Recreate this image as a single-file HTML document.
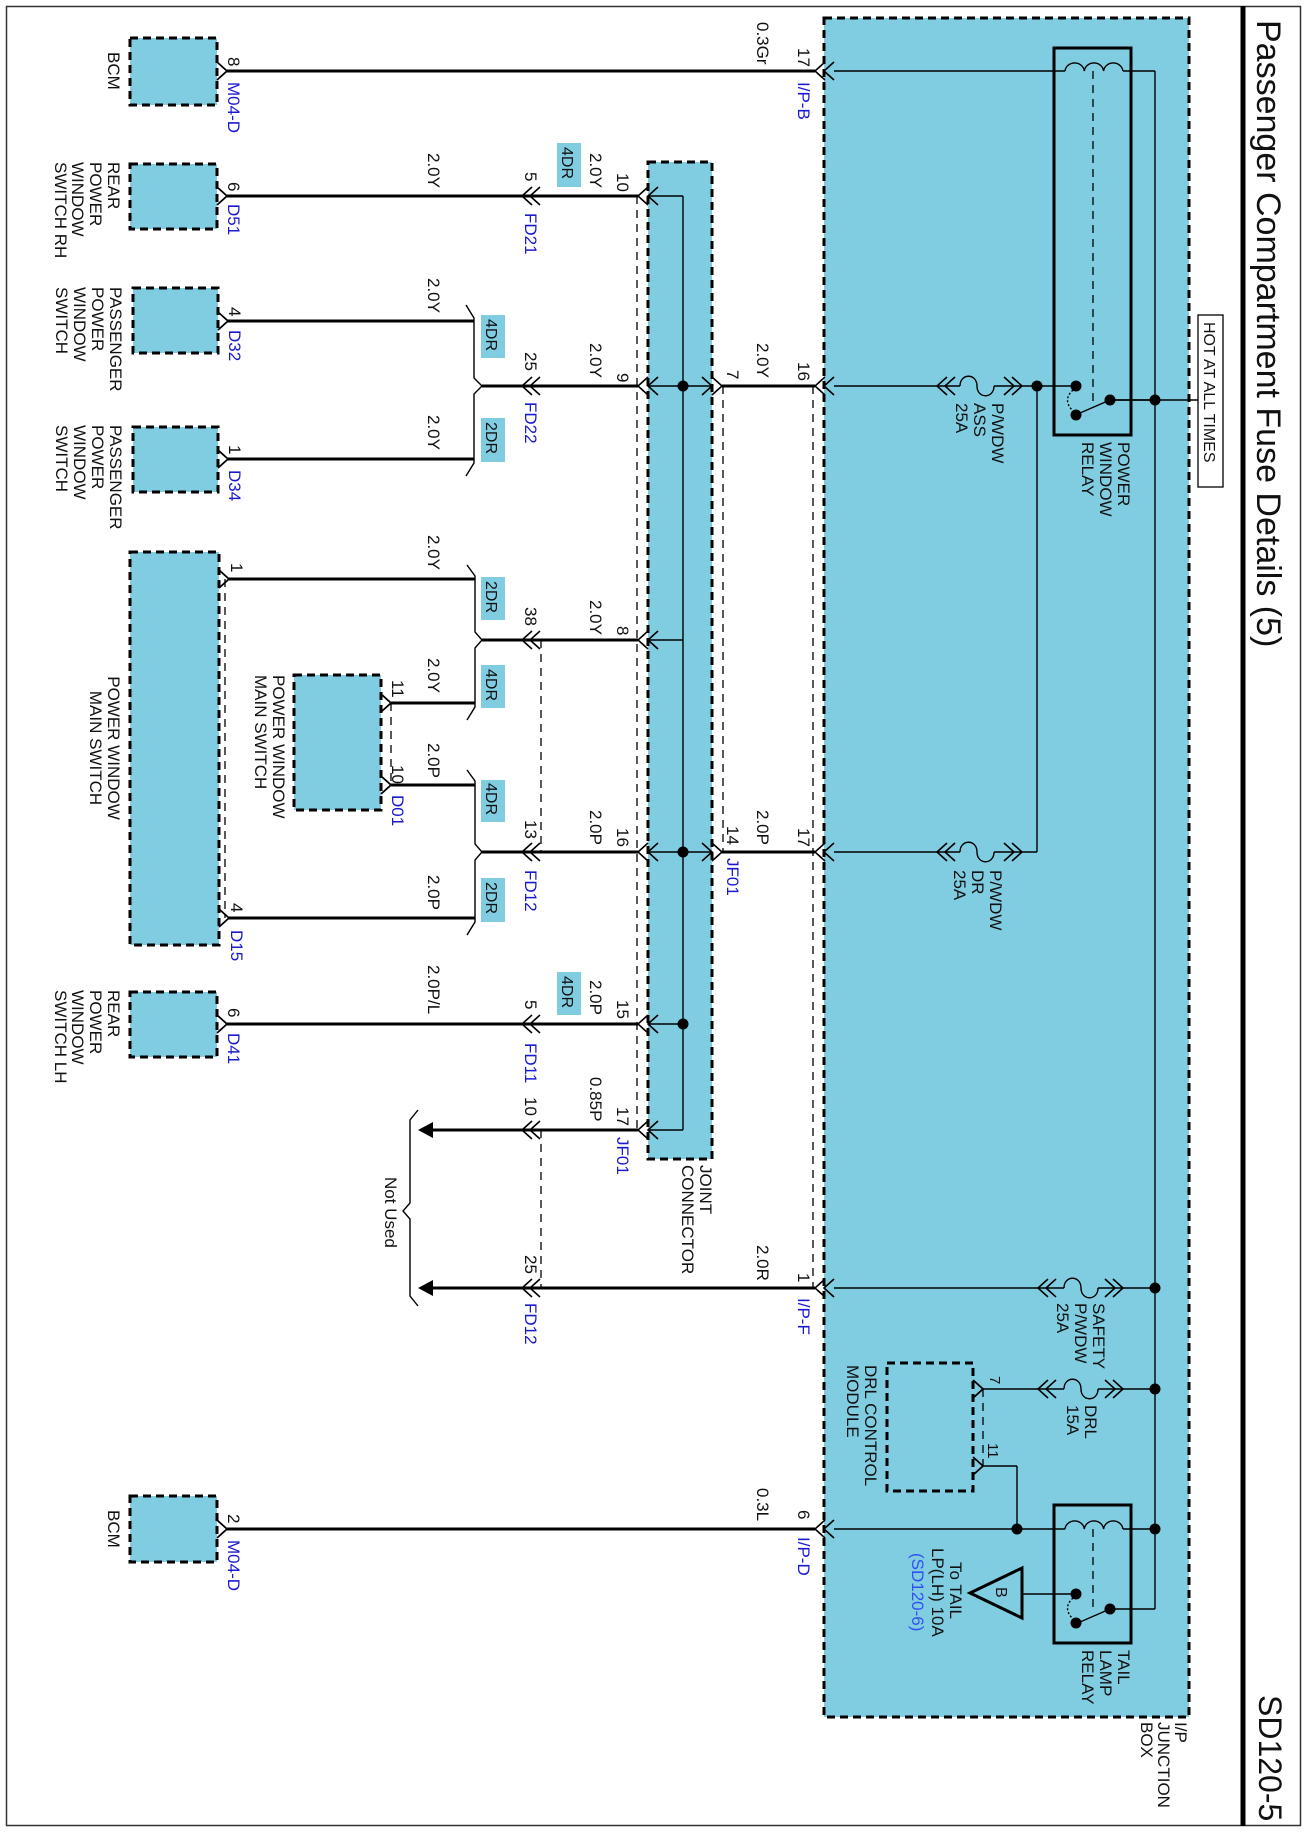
<!DOCTYPE html>
<html><head><meta charset="utf-8"><style>
html,body{margin:0;padding:0;background:#fff;}
svg{display:block;}
text{font-family:"Liberation Sans",Arial,sans-serif;font-size:17px;fill:#111;}
.b{fill:#1a1acd;}
.th{stroke:#000;stroke-width:3;fill:none;}
.tn{stroke:#000;stroke-width:1.4;fill:none;}
.ds{stroke:#000;stroke-width:1.3;fill:none;stroke-dasharray:8,6;}
.bx{fill:#80cde1;stroke:#000;stroke-width:3;stroke-dasharray:8,5;}
.tag{fill:#80cde1;}
</style></head><body>
<svg width="1308" height="1833" viewBox="0 0 1308 1833" xmlns="http://www.w3.org/2000/svg">
<defs>
<path id="cl" d="M10,-9 L0,0 L10,9" stroke="#000" stroke-width="1.6" fill="none"/>
<path id="cr" d="M-10,-9 L0,0 L-10,9" stroke="#000" stroke-width="1.6" fill="none"/>
<path id="cb" d="M0,-9 L10,0 L0,9" stroke="#000" stroke-width="1.8" fill="none"/>
<circle id="dt" r="5.5" fill="#000"/>
<path id="fs" d="M0,0 C0,-13 17,-13 17,0 C17,13 34,13 34,0" stroke="#000" stroke-width="1.4" fill="none"/>
<path id="coil" d="M0,0 a9.7,9 0 0 1 19.3,0 a9.7,9 0 0 1 19.3,0 a9.7,9 0 0 1 19.3,0" stroke="#000" stroke-width="1.4" fill="none"/>
</defs>

<!-- frame -->
<rect x="6.5" y="6.5" width="1294" height="1819" fill="none" stroke="#333" stroke-width="1.5"/>
<line x1="1243" y1="6" x2="1243" y2="1826" stroke="#000" stroke-width="5"/>
<text transform="translate(1257,20) rotate(90)" style="font-size:34px">Passenger Compartment Fuse Details (5)</text>
<text transform="translate(1259,1695) rotate(90)" style="font-size:32px">SD120-5</text>

<!-- junction box -->
<rect class="bx" x="824" y="18" width="365" height="1699"/>
<rect x="1198" y="315" width="25" height="172" fill="#fff" stroke="#000" stroke-width="1.3"/>
<text transform="translate(1204,322) rotate(90)" style="font-size:16px">HOT AT ALL TIMES</text>
<line class="tn" x1="1110" y1="400" x2="1198" y2="400"/>

<!-- joint connector -->
<rect class="bx" x="648" y="162" width="64" height="997"/>

<!-- component boxes -->
<rect class="bx" x="130" y="38" width="87" height="67"/>
<rect class="bx" x="130" y="164" width="87" height="65"/>
<rect class="bx" x="133" y="288" width="85" height="65"/>
<rect class="bx" x="133" y="427" width="85" height="65"/>
<rect class="bx" x="130" y="552" width="89" height="393"/>
<rect class="bx" x="294" y="675" width="87" height="135"/>
<rect class="bx" x="130" y="992" width="87" height="65"/>
<rect class="bx" x="130" y="1496" width="87" height="66"/>
<rect x="887" y="1363" width="86" height="128" fill="none" stroke="#000" stroke-width="3" stroke-dasharray="8,5"/>

<!-- relay boxes -->
<rect x="1054" y="48" width="77" height="387" fill="none" stroke="#000" stroke-width="3"/>
<rect x="1054" y="1505" width="77" height="138" fill="none" stroke="#000" stroke-width="3"/>

<!-- thick external wires -->
<g class="th">
<line x1="227" y1="71" x2="815" y2="71"/>
<line x1="227" y1="196" x2="638" y2="196"/>
<line x1="227" y1="321" x2="474" y2="321"/>
<line x1="227" y1="459" x2="474" y2="459"/>
<line x1="482" y1="386" x2="638" y2="386"/>
<line x1="229" y1="579" x2="475" y2="579"/>
<line x1="391" y1="703" x2="475" y2="703"/>
<line x1="482" y1="640" x2="638" y2="640"/>
<line x1="391" y1="785" x2="475" y2="785"/>
<line x1="229" y1="918" x2="475" y2="918"/>
<line x1="482" y1="852" x2="638" y2="852"/>
<line x1="227" y1="1024" x2="638" y2="1024"/>
<line x1="433" y1="1130" x2="638" y2="1130"/>
<line x1="433" y1="1288" x2="815" y2="1288"/>
<line x1="227" y1="1529" x2="815" y2="1529"/>
<line x1="722" y1="386" x2="815" y2="386"/>
<line x1="722" y1="852" x2="815" y2="852"/>
</g>

<!-- splices -->
<g class="tn" stroke-width="1.8">
<path d="M466,305 L474,318 L474,378 L482,386 L474,394 L474,463 L466,476"/>
<path d="M467,565 L475,576 L475,632 L482,640 L475,648 L475,707 L467,720"/>
<path d="M467,770 L475,781 L475,844 L482,852 L475,860 L475,922 L467,935"/>
<path d="M418,1110 L410,1120 L410,1203 L403,1211 L410,1219 L410,1296 L418,1306"/>
</g>
<polygon points="418,1130 433,1122 433,1138" fill="#000"/>
<polygon points="418,1288 433,1280 433,1296" fill="#000"/>
<text transform="translate(385,1177) rotate(90)">Not Used</text>

<!-- JC internal wires -->
<g class="tn">
<line x1="648" y1="196" x2="683" y2="196"/>
<line x1="683" y1="196" x2="683" y2="1130"/>
<line x1="648" y1="386" x2="712" y2="386"/>
<line x1="648" y1="640" x2="683" y2="640"/>
<line x1="648" y1="852" x2="712" y2="852"/>
<line x1="648" y1="1024" x2="683" y2="1024"/>
<line x1="648" y1="1130" x2="683" y2="1130"/>
</g>
<use href="#dt" x="683" y="386"/><use href="#dt" x="683" y="852"/><use href="#dt" x="683" y="1024"/>

<!-- dashed -->
<g class="ds">
<line x1="637" y1="196" x2="637" y2="1130"/>
<line x1="723" y1="386" x2="723" y2="852"/>
<line x1="813" y1="386" x2="813" y2="1288"/>
<line x1="541" y1="640" x2="541" y2="852"/>
<line x1="541" y1="1130" x2="541" y2="1288"/>
<line x1="225" y1="579" x2="225" y2="918"/>
<line x1="391" y1="703" x2="391" y2="785"/>
<line x1="983" y1="1389" x2="983" y2="1466"/>
<line x1="1093" y1="71" x2="1093" y2="405"/>
<line x1="1093" y1="1529" x2="1093" y2="1609"/>
</g>

<!-- junction internals -->
<g class="tn">
<line x1="834" y1="71" x2="1065" y2="71"/>
<line x1="1123" y1="71" x2="1155" y2="71"/>
<line x1="1155" y1="71" x2="1155" y2="1609"/>
<line x1="1155" y1="1609" x2="1110" y2="1609"/>
<line x1="1110" y1="400" x2="1155" y2="400"/>
<line x1="1110" y1="400" x2="1080" y2="413"/>
<line x1="1110" y1="1609" x2="1080" y2="1622"/>
<line x1="1076" y1="386" x2="1037" y2="386"/>
<line x1="1037" y1="386" x2="1037" y2="852"/>
<line x1="834" y1="386" x2="960" y2="386"/>
<line x1="994" y1="386" x2="1037" y2="386"/>
<line x1="834" y1="852" x2="960" y2="852"/>
<line x1="994" y1="852" x2="1037" y2="852"/>
<line x1="834" y1="1288" x2="1064" y2="1288"/>
<line x1="1098" y1="1288" x2="1155" y2="1288"/>
<line x1="983" y1="1389" x2="1064" y2="1389"/>
<line x1="1098" y1="1389" x2="1155" y2="1389"/>
<line x1="983" y1="1466" x2="1017" y2="1466"/>
<line x1="1017" y1="1466" x2="1017" y2="1529"/>
<line x1="834" y1="1529" x2="1065" y2="1529"/>
<line x1="1123" y1="1529" x2="1155" y2="1529"/>
<line x1="1022" y1="1594" x2="1076" y2="1594"/>
</g>
<path d="M1073,390 Q1062,400 1073,411" stroke="#000" stroke-width="1.4" fill="none" stroke-dasharray="2,2"/>
<path d="M1073,1598 Q1062,1608 1073,1619" stroke="#000" stroke-width="1.4" fill="none" stroke-dasharray="2,2"/>
<use href="#coil" x="1065" y="71"/><use href="#coil" x="1065" y="1529"/>
<use href="#fs" x="960" y="386"/><use href="#fs" x="960" y="852"/>
<use href="#fs" x="1064" y="1288"/><use href="#fs" x="1064" y="1389"/>
<g>
<use href="#cl" x="937" y="386"/><use href="#cl" x="945" y="386"/><use href="#cr" x="1014" y="386"/><use href="#cr" x="1022" y="386"/>
<use href="#cl" x="937" y="852"/><use href="#cl" x="945" y="852"/><use href="#cr" x="1014" y="852"/><use href="#cr" x="1022" y="852"/>
<use href="#cl" x="1038" y="1288"/><use href="#cl" x="1046" y="1288"/><use href="#cr" x="1115" y="1288"/><use href="#cr" x="1123" y="1288"/>
<use href="#cl" x="1038" y="1389"/><use href="#cl" x="1046" y="1389"/><use href="#cr" x="1115" y="1389"/><use href="#cr" x="1123" y="1389"/>
</g>
<use href="#dt" x="1076" y="386"/><use href="#dt" x="1076" y="415"/><use href="#dt" x="1110" y="400"/>
<use href="#dt" x="1155" y="400"/><use href="#dt" x="1037" y="386"/>
<use href="#dt" x="1155" y="1288"/><use href="#dt" x="1155" y="1389"/><use href="#dt" x="1155" y="1529"/><use href="#dt" x="1017" y="1529"/>
<use href="#dt" x="1076" y="1594"/><use href="#dt" x="1076" y="1623"/><use href="#dt" x="1110" y="1609"/>
<polygon points="970,1593 1022,1568 1022,1618" fill="none" stroke="#000" stroke-width="3"/>
<text transform="translate(996,1587) rotate(90)" style="font-size:16px">B</text>

<!-- connectors at junction box edge -->
<g>
<use href="#cl" x="815" y="71"/><use href="#cl" x="824" y="71"/>
<use href="#cl" x="815" y="386"/><use href="#cl" x="824" y="386"/>
<use href="#cl" x="815" y="852"/><use href="#cl" x="824" y="852"/>
<use href="#cl" x="815" y="1288"/><use href="#cl" x="824" y="1288"/>
<use href="#cl" x="815" y="1529"/><use href="#cl" x="824" y="1529"/>
<!-- JC right -->
<use href="#cr" x="712" y="386"/><use href="#cr" x="722" y="386"/>
<use href="#cr" x="712" y="852"/><use href="#cr" x="722" y="852"/>
<!-- JC left -->
<use href="#cl" x="638" y="196"/><use href="#cl" x="648" y="196"/>
<use href="#cl" x="638" y="386"/><use href="#cl" x="648" y="386"/>
<use href="#cl" x="638" y="640"/><use href="#cl" x="648" y="640"/>
<use href="#cl" x="638" y="852"/><use href="#cl" x="648" y="852"/>
<use href="#cl" x="638" y="1024"/><use href="#cl" x="648" y="1024"/>
<use href="#cl" x="638" y="1130"/><use href="#cl" x="648" y="1130"/>
<!-- FD -->
<use href="#cl" x="522" y="196"/><use href="#cl" x="530" y="196"/>
<use href="#cl" x="522" y="386"/><use href="#cl" x="530" y="386"/>
<use href="#cl" x="522" y="640"/><use href="#cl" x="530" y="640"/>
<use href="#cl" x="522" y="852"/><use href="#cl" x="530" y="852"/>
<use href="#cl" x="522" y="1024"/><use href="#cl" x="530" y="1024"/>
<use href="#cl" x="522" y="1130"/><use href="#cl" x="530" y="1130"/>
<use href="#cl" x="522" y="1288"/><use href="#cl" x="530" y="1288"/>
<!-- component pins -->
<use href="#cb" x="217" y="71"/><use href="#cb" x="217" y="196"/><use href="#cb" x="218" y="321"/><use href="#cb" x="218" y="459"/>
<use href="#cb" x="219" y="579"/><use href="#cb" x="219" y="918"/><use href="#cb" x="381" y="703"/><use href="#cb" x="381" y="785"/>
<use href="#cb" x="217" y="1024"/><use href="#cb" x="217" y="1529"/>
<use href="#cb" x="973" y="1389"/><use href="#cb" x="973" y="1466"/>
</g>

<!-- tags -->
<rect class="tag" x="557" y="143" width="24" height="44"/><text transform="translate(562,147) rotate(90)" style="font-size:16px">4DR</text>
<rect class="tag" x="557" y="972" width="24" height="43"/><text transform="translate(562,976) rotate(90)" style="font-size:16px">4DR</text>
<rect class="tag" x="481" y="315" width="24" height="43"/><text transform="translate(486,319) rotate(90)" style="font-size:16px">4DR</text>
<rect class="tag" x="481" y="418" width="24" height="44"/><text transform="translate(486,422) rotate(90)" style="font-size:16px">2DR</text>
<rect class="tag" x="481" y="577" width="24" height="43"/><text transform="translate(486,581) rotate(90)" style="font-size:16px">2DR</text>
<rect class="tag" x="481" y="665" width="24" height="43"/><text transform="translate(486,669) rotate(90)" style="font-size:16px">4DR</text>
<rect class="tag" x="481" y="780" width="24" height="42"/><text transform="translate(486,783) rotate(90)" style="font-size:16px">4DR</text>
<rect class="tag" x="481" y="878" width="24" height="44"/><text transform="translate(486,882) rotate(90)" style="font-size:16px">2DR</text>

<!-- labels -->
<g>
<text transform="translate(1118,442) rotate(90)">POWER</text>
<text transform="translate(1100,442) rotate(90)">WINDOW</text>
<text transform="translate(1082,442) rotate(90)">RELAY</text>
<text transform="translate(992,403) rotate(90)">P/WDW</text>
<text transform="translate(974,403) rotate(90)">ASS</text>
<text transform="translate(956,403) rotate(90)">25A</text>
<text transform="translate(990,870) rotate(90)">P/WDW</text>
<text transform="translate(972,870) rotate(90)">DR</text>
<text transform="translate(954,870) rotate(90)">25A</text>
<text transform="translate(1093,1303) rotate(90)">SAFETY</text>
<text transform="translate(1075,1303) rotate(90)">P/WDW</text>
<text transform="translate(1057,1303) rotate(90)">25A</text>
<text transform="translate(1085,1405) rotate(90)">DRL</text>
<text transform="translate(1067,1405) rotate(90)">15A</text>
<text transform="translate(865,1365) rotate(90)">DRL CONTROL</text>
<text transform="translate(847,1365) rotate(90)">MODULE</text>
<text transform="translate(990,1376) rotate(90)" style="font-size:15px">7</text>
<text transform="translate(988,1443) rotate(90)" style="font-size:15px">11</text>
<text transform="translate(1118,1650) rotate(90)">TAIL</text>
<text transform="translate(1100,1650) rotate(90)">LAMP</text>
<text transform="translate(1082,1650) rotate(90)">RELAY</text>
<text transform="translate(950,1562) rotate(90)">To TAIL</text>
<text transform="translate(932,1548) rotate(90)">LP(LH) 10A</text>
<text transform="translate(912,1553) rotate(90)" style="fill:#3050f0">(SD120-6)</text>
<text transform="translate(1175,1722) rotate(90)">I/P</text>
<text transform="translate(1158,1722) rotate(90)">JUNCTION</text>
<text transform="translate(1141,1722) rotate(90)">BOX</text>
<text transform="translate(700,1165) rotate(90)">JOINT</text>
<text transform="translate(682,1165) rotate(90)">CONNECTOR</text>

<text transform="translate(798,48) rotate(90)">17</text>
<text class="b" transform="translate(798,82) rotate(90)">I/P-B</text>
<text transform="translate(798,362) rotate(90)">16</text>
<text transform="translate(798,828) rotate(90)">17</text>
<text transform="translate(798,1273) rotate(90)">1</text>
<text class="b" transform="translate(798,1298) rotate(90)">I/P-F</text>
<text transform="translate(798,1510) rotate(90)">6</text>
<text class="b" transform="translate(798,1537) rotate(90)">I/P-D</text>

<text transform="translate(757,22) rotate(90)">0.3Gr</text>
<text transform="translate(757,343) rotate(90)">2.0Y</text>
<text transform="translate(757,810) rotate(90)">2.0P</text>
<text transform="translate(757,1245) rotate(90)">2.0R</text>
<text transform="translate(757,1488) rotate(90)">0.3L</text>

<text transform="translate(727,370) rotate(90)">7</text>
<text transform="translate(727,826) rotate(90)">14</text>
<text class="b" transform="translate(727,858) rotate(90)">JF01</text>

<text transform="translate(617,173) rotate(90)">10</text>
<text transform="translate(617,373) rotate(90)">9</text>
<text transform="translate(617,626) rotate(90)">8</text>
<text transform="translate(617,828) rotate(90)">16</text>
<text transform="translate(617,1000) rotate(90)">15</text>
<text transform="translate(617,1107) rotate(90)">17</text>
<text class="b" transform="translate(617,1137) rotate(90)">JF01</text>

<text transform="translate(590,153) rotate(90)">2.0Y</text>
<text transform="translate(590,343) rotate(90)">2.0Y</text>
<text transform="translate(590,600) rotate(90)">2.0Y</text>
<text transform="translate(590,810) rotate(90)">2.0P</text>
<text transform="translate(590,980) rotate(90)">2.0P</text>
<text transform="translate(590,1077) rotate(90)">0.85P</text>

<text transform="translate(525,172) rotate(90)">5</text>
<text class="b" transform="translate(525,213) rotate(90)">FD21</text>
<text transform="translate(525,352) rotate(90)">25</text>
<text class="b" transform="translate(525,402) rotate(90)">FD22</text>
<text transform="translate(525,607) rotate(90)">38</text>
<text transform="translate(525,820) rotate(90)">13</text>
<text class="b" transform="translate(525,870) rotate(90)">FD12</text>
<text transform="translate(525,1000) rotate(90)">5</text>
<text class="b" transform="translate(525,1043) rotate(90)">FD11</text>
<text transform="translate(525,1097) rotate(90)">10</text>
<text transform="translate(525,1255) rotate(90)">25</text>
<text class="b" transform="translate(525,1303) rotate(90)">FD12</text>

<text transform="translate(428,153) rotate(90)">2.0Y</text>
<text transform="translate(428,278) rotate(90)">2.0Y</text>
<text transform="translate(428,415) rotate(90)">2.0Y</text>
<text transform="translate(428,535) rotate(90)">2.0Y</text>
<text transform="translate(428,658) rotate(90)">2.0Y</text>
<text transform="translate(428,743) rotate(90)">2.0P</text>
<text transform="translate(428,875) rotate(90)">2.0P</text>
<text transform="translate(428,965) rotate(90)">2.0P/L</text>

<text transform="translate(392,680) rotate(90)">11</text>
<text transform="translate(392,765) rotate(90)">10</text>
<text class="b" transform="translate(392,795) rotate(90)">D01</text>
<text transform="translate(273,675) rotate(90)">POWER WINDOW</text>
<text transform="translate(255,675) rotate(90)">MAIN SWITCH</text>

<text transform="translate(228,57) rotate(90)">8</text>
<text class="b" transform="translate(228,82) rotate(90)">M04-D</text>
<text transform="translate(228,182) rotate(90)">6</text>
<text class="b" transform="translate(228,204) rotate(90)">D51</text>
<text transform="translate(229,307) rotate(90)">4</text>
<text class="b" transform="translate(229,330) rotate(90)">D32</text>
<text transform="translate(229,445) rotate(90)">1</text>
<text class="b" transform="translate(229,470) rotate(90)">D34</text>
<text transform="translate(231,563) rotate(90)">1</text>
<text transform="translate(231,903) rotate(90)">4</text>
<text class="b" transform="translate(231,930) rotate(90)">D15</text>
<text transform="translate(228,1008) rotate(90)">6</text>
<text class="b" transform="translate(228,1033) rotate(90)">D41</text>
<text transform="translate(228,1514) rotate(90)">2</text>
<text class="b" transform="translate(228,1540) rotate(90)">M04-D</text>

<text transform="translate(108,52) rotate(90)">BCM</text>
<text transform="translate(108,162) rotate(90)">REAR</text>
<text transform="translate(90,162) rotate(90)">POWER</text>
<text transform="translate(72,162) rotate(90)">WINDOW</text>
<text transform="translate(55,162) rotate(90)">SWITCH RH</text>
<text transform="translate(110,287) rotate(90)">PASSENGER</text>
<text transform="translate(92,287) rotate(90)">POWER</text>
<text transform="translate(74,287) rotate(90)">WINDOW</text>
<text transform="translate(56,287) rotate(90)">SWITCH</text>
<text transform="translate(110,425) rotate(90)">PASSENGER</text>
<text transform="translate(92,425) rotate(90)">POWER</text>
<text transform="translate(74,425) rotate(90)">WINDOW</text>
<text transform="translate(56,425) rotate(90)">SWITCH</text>
<text transform="translate(108,748) rotate(90)" text-anchor="middle">POWER WINDOW</text>
<text transform="translate(90,748) rotate(90)" text-anchor="middle">MAIN SWITCH</text>
<text transform="translate(108,990) rotate(90)">REAR</text>
<text transform="translate(90,990) rotate(90)">POWER</text>
<text transform="translate(72,990) rotate(90)">WINDOW</text>
<text transform="translate(55,990) rotate(90)">SWITCH LH</text>
<text transform="translate(108,1510) rotate(90)">BCM</text>
</g>
</svg>
</body></html>
